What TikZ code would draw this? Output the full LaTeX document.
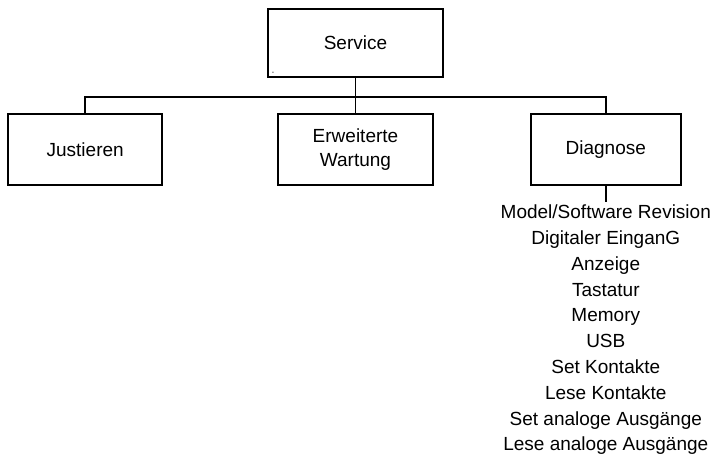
\documentclass[tikz,border=0pt]{standalone}
\usepackage{fontspec}
\setmainfont{Liberation Sans}
\usetikzlibrary{positioning}

\begin{document}
\begin{tikzpicture}[
    x=1pt, y=-1pt,
    node distance=35pt,
    menubox/.style={rectangle, draw=black, line width=1.8pt,
      minimum height=71pt, align=center,
      font=\fontsize{19}{24}\selectfont},
    link/.style={line width=1.8pt, draw=black},
  ]
  \useasboundingbox (0,0) rectangle (713,469);

  \node[menubox, minimum width=175pt, minimum height=68pt] (service) at (355.5,43) {Service};
  \node[font=\fontsize{7}{7}\selectfont, inner sep=0pt] (mark) at (273,73) {-};
  \node[menubox, minimum width=155pt, below=of service] (wartung) {Erweiterte\\Wartung};
  \node[menubox, minimum width=154pt, left=114pt of wartung] (justieren) {Justieren};
  \node[menubox, minimum width=150pt, right=96pt of wartung] (diagnose) {Diagnose};

  \coordinate (bus) at (355.5,97);
  \draw[link] (service) -- (wartung);
  \draw[link] (justieren.north) |- (bus) -| (diagnose.north);

  \draw[link] (diagnose.south) -- ++(0,16) coordinate (listtop);
  \node[below=3pt of listtop, inner sep=0pt, align=center,
    font=\fontsize{19}{25.8}\selectfont] (diaglist)
    {Model/Software Revision\\Digitaler EinganG\\Anzeige\\Tastatur\\Memory\\USB\\
     Set Kontakte\\Lese Kontakte\\Set analoge Ausgänge\\Lese analoge Ausgänge};
\end{tikzpicture}
\end{document}
